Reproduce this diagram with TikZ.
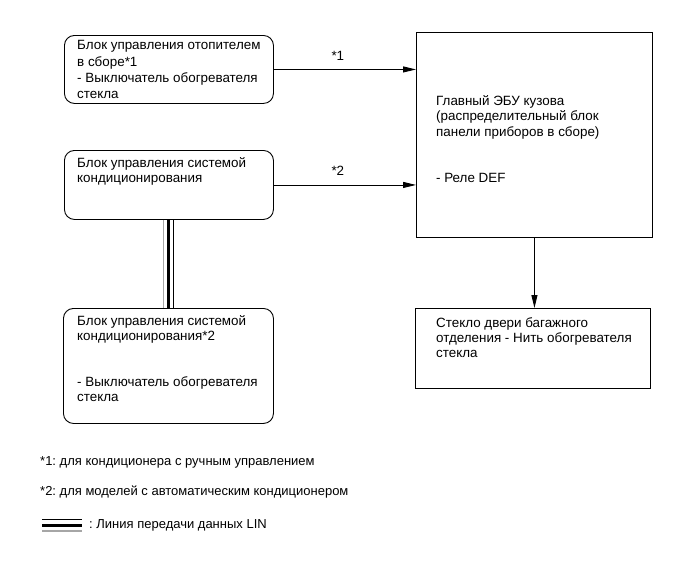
\documentclass[tikz,border=0pt]{standalone}
\usepackage{fontspec}
\setmainfont{Liberation Sans}
\usetikzlibrary{arrows.meta}
\usetikzlibrary{positioning}
\frenchspacing

\begin{document}
\begin{tikzpicture}[x=1pt, y=-1pt,
	ctrlbox/.style={rectangle, draw=black, line width=0.9pt, rounded corners=10pt, anchor=north west},
	ecubox/.style={rectangle, draw=black, line width=0.9pt, anchor=north west},
	boxtext/.style={inner sep=0pt, align=left, font=\fontsize{13.4}{15.3}\selectfont},
	notetext/.style={inner sep=0pt, anchor=west, font=\fontsize{13}{15.3}\selectfont},
	sig/.style={black, line width=0.9pt, -{Triangle[length=13pt, width=6pt]}},
	linthick/.style={black, line width=3pt},
	linthin/.style={black, line width=1pt},
	lingray/.style={gray!70, line width=1.4pt}]
\useasboundingbox (0,0) rectangle (691,562);

% boxes
\node[ctrlbox, minimum width=209pt, minimum height=68pt] (heater) at (64,35) {};
\node[ctrlbox, minimum width=209pt, minimum height=69pt] (aircon) at (64,150) {};
\node[ctrlbox, minimum width=210pt, minimum height=115pt] (aircontwo) at (63,308) {};
\node[ecubox, minimum width=236pt, minimum height=205pt] (ebu) at (416,32) {};
\node[ecubox, minimum width=235pt, minimum height=80pt] (glass) at (415,308) {};

\node[boxtext, font=\fontsize{13.4}{16.3}\selectfont, below right=5.5pt and 13pt of heater.north west] (heatertxt) {Блок управления отопителем\\в сборе*1\\- Выключатель обогревателя\\стекла};
\node[boxtext, below right=7pt and 13pt of aircon.north west] (aircontxt) {Блок управления системой\\кондиционирования};
\node[boxtext, below right=7pt and 14pt of aircontwo.north west] (aircontwotxt) {Блок управления системой\\кондиционирования*2\\[30.6pt]- Выключатель обогревателя\\стекла};
\node[boxtext, below right=63.5pt and 20pt of ebu.north west] (ebutxt) {Главный ЭБУ кузова\\(распределительный блок\\панели приборов в сборе)\\[30.6pt]- Реле DEF};
\node[boxtext, below right=9pt and 21pt of glass.north west] (glasstxt) {Стекло двери багажного\\отделения - Нить обогревателя\\стекла};

% signals
\draw[sig] (heater.east) -- (heater.east -| ebu.west) node[pos=0.45, above=9pt, boxtext] (sigone) {*1};
\draw[sig] (aircon.east) -- (aircon.east -| ebu.west) node[pos=0.45, above=9pt, boxtext] (sigtwo) {*2};
\draw[sig] (ebu.south) -- (ebu.south |- glass.north);

% LIN bus
\draw[lingray] ([xshift=-5.5pt]aircon.south) -- ([xshift=-5.5pt]aircon.south |- aircontwo.north);
\draw[linthick] (aircon.south) -- (aircon.south |- aircontwo.north);
\draw[linthin] ([xshift=5pt]aircon.south) -- ([xshift=5pt]aircon.south |- aircontwo.north);

% legend
\node[notetext] (noteone) at (40,462) {*1: для кондиционера с ручным управлением};
\node[notetext] (notetwo) at (40,492) {*2: для моделей с автоматическим кондиционером};
\coordinate (linstart) at (42,525);
\coordinate (linend) at (82,525);
\draw[linthin] ([yshift=6pt]linstart) -- ([yshift=6pt]linend);
\draw[linthick] (linstart) -- (linend);
\draw[lingray] ([yshift=-6pt]linstart) -- ([yshift=-6pt]linend);
\node[notetext] (lintxt) at (89,525) {: Линия передачи данных LIN};
\end{tikzpicture}
\end{document}
